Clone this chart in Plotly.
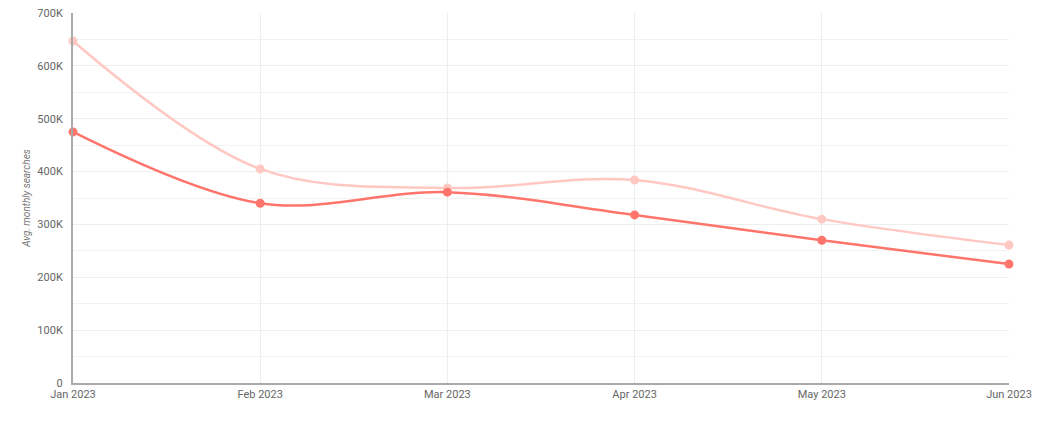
import plotly.graph_objects as go

months = ["Jan 2023", "Feb 2023", "Mar 2023", "Apr 2023", "May 2023", "Jun 2023"]
series_light = [647000, 405000, 369000, 384000, 310000, 261000]
series_dark = [475000, 340000, 361000, 318000, 270000, 225000]
y_ticks = [0, 100000, 200000, 300000, 400000, 500000, 600000, 700000]
y_tick_labels = ["0", "100K", "200K", "300K", "400K", "500K", "600K", "700K"]

fig = go.Figure()
fig.add_trace(go.Scatter(
    x=months, y=series_light, mode="lines+markers", cliponaxis=False,
    line=dict(color="#ffc8c2", width=2.5, shape="spline", smoothing=1),
    marker=dict(color="#ffc8c2", size=9), showlegend=False,
))
fig.add_trace(go.Scatter(
    x=months, y=series_dark, mode="lines+markers", cliponaxis=False,
    line=dict(color="#ff756b", width=2.5, shape="spline", smoothing=1),
    marker=dict(color="#ff756b", size=9), showlegend=False,
))

fig.update_layout(
    width=1063, height=425,
    margin=dict(l=65, r=62, t=5, b=50),
    plot_bgcolor="white", paper_bgcolor="white",
    font=dict(family="Roboto", size=11, color="#666666"),
    xaxis=dict(
        type="category", range=[0, len(months) - 1],
        showgrid=True, gridcolor="#eeeeee", gridwidth=1,
        showline=True, linecolor="#aaaaaa", linewidth=2,
        ticks="", zeroline=False, fixedrange=True,
        ticklabeloverflow="allow", automargin=False,
    ),
    yaxis=dict(
        range=[0, 700000], tickvals=y_ticks, ticktext=y_tick_labels,
        showgrid=True, gridcolor="#eeeeee", gridwidth=1,
        minor=dict(dtick=50000, showgrid=True, gridcolor="#f2f2f2"),
        showline=True, linecolor="#aaaaaa", linewidth=2,
        ticks="", zeroline=False, ticklabelstandoff=6,
        ticklabeloverflow="allow", automargin=False,
        title=dict(text="<i>Avg. monthly searches</i>", font=dict(size=10, color="#777777"), standoff=5),
    ),
)

fig.write_html("out.html")
